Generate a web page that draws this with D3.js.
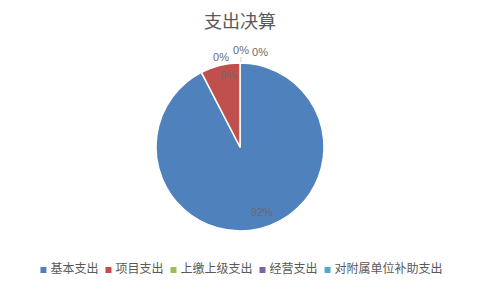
<!DOCTYPE html>
<html>
<head>
<meta charset="utf-8">
<script src="https://cdn.jsdelivr.net/npm/d3@7"></script>
<style>
  body { margin: 0; background: #fff; }
  svg { display: block; }
</style>
</head>
<body>
<div id="chart"></div>
<script>
// data
var title = "支出决算";
var categories = ["基本支出", "项目支出", "上缴上级支出", "经营支出", "对附属单位补助支出"];
var values = [92.4, 7.6, 0, 0, 0];
var colors = ["#4F81BD", "#C0504D", "#9BBB59", "#8064A2", "#4BACC6"];

var width = 481, height = 289;
var cx = 240, cy = 147, r = 84;
var cjk = "'Noto Sans CJK SC', 'Noto Sans', sans-serif";

var svg = d3.select("#chart").append("svg")
    .attr("width", width)
    .attr("height", height);

svg.append("rect")
    .attr("width", width).attr("height", height)
    .attr("fill", "#fff");

svg.append("text")
    .attr("x", cx)
    .attr("y", 28)
    .attr("text-anchor", "middle")
    .attr("font-family", cjk)
    .attr("font-size", 18)
    .attr("fill", "#595959")
    .text(title);

var pie = d3.pie().sort(null).value(function (d) { return d; });
var arcs = pie(values);
var total = d3.sum(values);

var arc = d3.arc().innerRadius(0).outerRadius(r);

var g = svg.append("g").attr("transform", "translate(" + cx + "," + cy + ")");

g.selectAll("path")
    .data(arcs.filter(function (d) { return d.value > 0; }))
    .enter().append("path")
    .attr("d", arc)
    .attr("fill", function (d) { return colors[d.index]; })
    .attr("stroke", "#fff")
    .attr("stroke-width", 1.5)
    .attr("stroke-linejoin", "round");

// labels: inside for real slices, outside for the empty ones
var inner = d3.arc().innerRadius(r * 0.8).outerRadius(r * 0.8);
// empty slices sit at the top; spread them out like excel does
var zeroOffsets = [[-19, -90], [1, -97], [20, -95]];
var zi = 0;

arcs.forEach(function (d) {
    var pct = Math.round(d.value / total * 100) + "%";
    var x, y;
    if (d.value > 0) {
        var c = inner.centroid(d);
        x = c[0]; y = c[1];
        if (d.index === 1) { x += 4; y -= 7; }
        if (d.index === 0) { x += 6; }
    } else {
        var o = zeroOffsets[zi++];
        x = o[0]; y = o[1];
        if (zi === 2) {
            g.append("line")
                .attr("x1", x).attr("x2", x)
                .attr("y1", y + 7).attr("y2", -r - 1)
                .attr("stroke", "#d0d0d0")
                .attr("stroke-width", 1);
        }
    }
    g.append("text")
        .attr("x", x)
        .attr("y", y)
        .attr("dy", "0.35em")
        .attr("text-anchor", "middle")
        .attr("font-family", "'Liberation Sans', Arial, sans-serif")
        .attr("font-size", 11)
        .attr("fill", "#6b6b6b")
        .text(pct);
});

// legend
var legend = svg.append("g");
var items = legend.selectAll("g")
    .data(categories)
    .enter().append("g");

items.append("rect")
    .attr("width", 6).attr("height", 6)
    .attr("y", -6)
    .attr("fill", function (d, i) { return colors[i]; });

items.append("text")
    .attr("x", 10)
    .attr("font-family", cjk)
    .attr("font-size", 12)
    .attr("fill", "#595959")
    .text(function (d) { return d; });

var xpos = 0;
items.each(function () {
    var w = d3.select(this).select("text").node().getComputedTextLength();
    d3.select(this).attr("transform", "translate(" + xpos + ",0)");
    xpos += 10 + w + 7;
});
var legendW = xpos - 7;
legend.attr("transform", "translate(" + (width / 2 + 1 - legendW / 2) + ",273)");
</script>
</body>
</html>
